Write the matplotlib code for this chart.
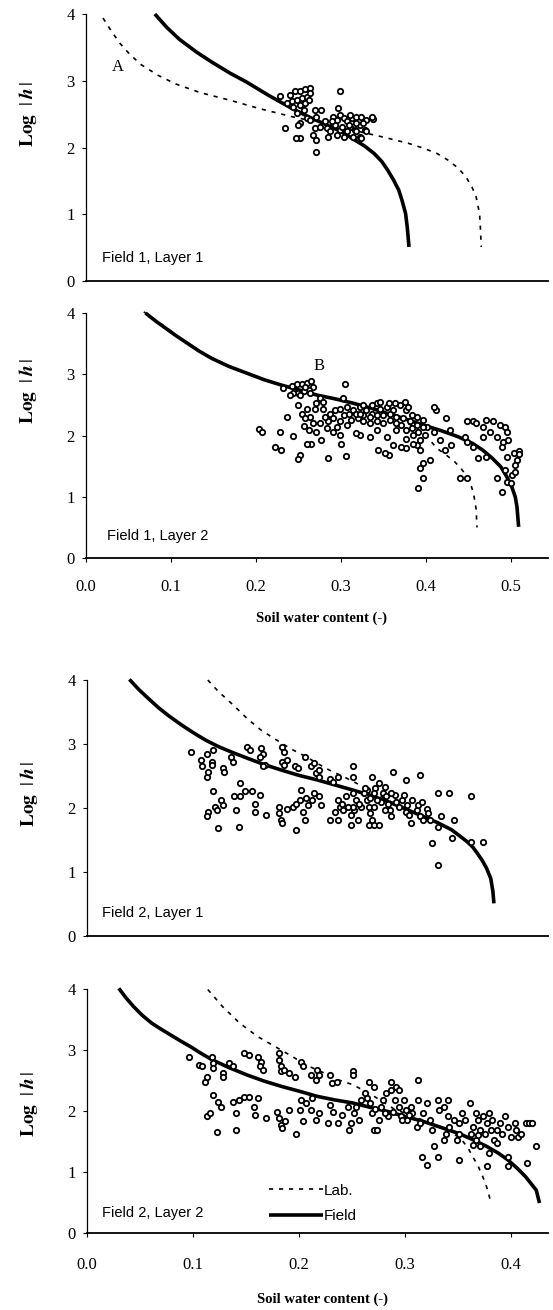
import numpy as np
import matplotlib.pyplot as plt

plt.rcParams['font.family'] = 'Liberation Serif'
plt.rcParams['mathtext.fontset'] = 'stix'

# ---- retention curves: (soil water content, log|h|) ----
f1l1_field = [(0.081, 4.00), (0.095, 3.80), (0.110, 3.62), (0.130, 3.43), (0.148, 3.28),
              (0.170, 3.11), (0.189, 2.98), (0.215, 2.78), (0.243, 2.58), (0.262, 2.46),
              (0.281, 2.35), (0.300, 2.24), (0.314, 2.13), (0.328, 2.02), (0.339, 1.91),
              (0.348, 1.79), (0.355, 1.66), (0.362, 1.51), (0.368, 1.36), (0.372, 1.20),
              (0.376, 1.01), (0.378, 0.80), (0.380, 0.51)]
f1l1_lab = [(0.020, 3.94), (0.030, 3.74), (0.040, 3.56), (0.052, 3.39), (0.065, 3.24),
            (0.085, 3.08), (0.106, 2.95), (0.135, 2.82), (0.169, 2.71), (0.205, 2.58),
            (0.243, 2.46), (0.280, 2.36), (0.314, 2.26), (0.355, 2.14), (0.380, 2.06),
            (0.397, 1.99), (0.413, 1.91), (0.426, 1.81), (0.438, 1.69), (0.447, 1.56),
            (0.454, 1.41), (0.459, 1.26), (0.463, 1.01), (0.464, 0.80), (0.465, 0.51)]

f1l2_field = [(0.070, 4.00), (0.082, 3.87), (0.094, 3.75), (0.106, 3.63), (0.119, 3.51),
              (0.133, 3.38), (0.148, 3.26), (0.168, 3.13), (0.189, 3.02), (0.210, 2.91),
              (0.231, 2.82), (0.252, 2.74), (0.272, 2.66), (0.293, 2.60), (0.314, 2.53),
              (0.335, 2.45), (0.355, 2.36), (0.376, 2.27), (0.397, 2.17), (0.418, 2.08),
              (0.438, 1.98), (0.455, 1.87), (0.467, 1.76), (0.478, 1.63), (0.488, 1.49),
              (0.495, 1.33), (0.501, 1.16), (0.505, 1.00), (0.507, 0.84), (0.509, 0.51)]
f1l2_lab = [(0.068, 4.02), (0.081, 3.89), (0.094, 3.77), (0.106, 3.64), (0.119, 3.52),
            (0.133, 3.39), (0.148, 3.27), (0.168, 3.14), (0.189, 3.02), (0.210, 2.91),
            (0.231, 2.82), (0.252, 2.74), (0.272, 2.66), (0.293, 2.59), (0.314, 2.52),
            (0.330, 2.46), (0.345, 2.40), (0.365, 2.30), (0.385, 2.15), (0.400, 2.00),
            (0.413, 1.79), (0.424, 1.68), (0.434, 1.57), (0.442, 1.45), (0.448, 1.33),
            (0.453, 1.19), (0.456, 1.05), (0.459, 0.80), (0.460, 0.50)]

f2l1_field = [(0.040, 4.01), (0.049, 3.85), (0.058, 3.71), (0.068, 3.56), (0.078, 3.43),
              (0.089, 3.30), (0.101, 3.17), (0.112, 3.06), (0.124, 2.96), (0.137, 2.87),
              (0.151, 2.78), (0.167, 2.68), (0.184, 2.59), (0.200, 2.51), (0.217, 2.44),
              (0.234, 2.36), (0.251, 2.28), (0.267, 2.20), (0.284, 2.10), (0.300, 1.99),
              (0.317, 1.87), (0.331, 1.77), (0.344, 1.66), (0.352, 1.56), (0.359, 1.47),
              (0.364, 1.39), (0.368, 1.30), (0.373, 1.18), (0.377, 1.06), (0.381, 0.90),
              (0.383, 0.70), (0.384, 0.51)]
f2l1_lab = [(0.114, 4.00), (0.124, 3.82), (0.138, 3.61), (0.151, 3.40), (0.164, 3.22),
            (0.181, 3.04), (0.194, 2.91), (0.207, 2.80), (0.217, 2.70), (0.229, 2.59),
            (0.242, 2.49), (0.254, 2.39), (0.268, 2.27), (0.284, 2.12), (0.300, 1.99),
            (0.317, 1.87), (0.331, 1.77), (0.344, 1.66), (0.352, 1.56), (0.359, 1.47),
            (0.364, 1.39), (0.368, 1.30), (0.373, 1.18), (0.377, 1.06), (0.381, 0.90),
            (0.383, 0.70), (0.384, 0.51)]

f2l2_field = [(0.030, 4.01), (0.037, 3.85), (0.044, 3.71), (0.052, 3.57), (0.061, 3.44),
              (0.069, 3.35), (0.078, 3.255), (0.088, 3.15), (0.098, 3.05), (0.108, 2.94),
              (0.118, 2.84), (0.134, 2.71), (0.151, 2.59), (0.167, 2.49), (0.184, 2.40),
              (0.201, 2.32), (0.217, 2.24), (0.234, 2.18), (0.251, 2.13), (0.267, 2.06),
              (0.284, 1.99), (0.300, 1.91), (0.317, 1.83), (0.334, 1.73), (0.351, 1.63),
              (0.364, 1.53), (0.377, 1.42), (0.388, 1.31), (0.397, 1.20), (0.406, 1.06),
              (0.414, 0.92), (0.419, 0.81), (0.424, 0.70), (0.427, 0.49)]
f2l2_lab = [(0.114, 3.99), (0.128, 3.71), (0.144, 3.44), (0.161, 3.22), (0.178, 3.05),
            (0.194, 2.89), (0.207, 2.75), (0.224, 2.62), (0.237, 2.51), (0.251, 2.43),
            (0.270, 2.25), (0.290, 2.03), (0.317, 1.85), (0.334, 1.74), (0.345, 1.64),
            (0.354, 1.52), (0.360, 1.38), (0.364, 1.25), (0.369, 1.10), (0.372, 0.98),
            (0.375, 0.86), (0.377, 0.76), (0.379, 0.64), (0.381, 0.51)]

# ---- field measurements: (soil water content, log|h|) ----
f1l1_obs = [(0.228, 2.77), (0.240, 2.79), (0.246, 2.84), (0.252, 2.85), (0.258, 2.87),
            (0.263, 2.89), (0.242, 2.69), (0.248, 2.71), (0.254, 2.74), (0.260, 2.76),
            (0.236, 2.66), (0.244, 2.61), (0.252, 2.64), (0.258, 2.66), (0.264, 2.81),
            (0.262, 2.71), (0.248, 2.51), (0.256, 2.56), (0.269, 2.56), (0.277, 2.56),
            (0.271, 2.46), (0.260, 2.44), (0.264, 2.41), (0.252, 2.36), (0.234, 2.29),
            (0.250, 2.34), (0.269, 2.29), (0.267, 2.19), (0.271, 2.11), (0.252, 2.14),
            (0.247, 2.14), (0.271, 1.94), (0.285, 2.16), (0.283, 2.29), (0.281, 2.39),
            (0.291, 2.46), (0.299, 2.84), (0.297, 2.59), (0.299, 2.49), (0.303, 2.44),
            (0.307, 2.39), (0.313, 2.44), (0.318, 2.46), (0.324, 2.46), (0.330, 2.41),
            (0.338, 2.42), (0.311, 2.31), (0.316, 2.26), (0.322, 2.34), (0.328, 2.26),
            (0.307, 2.24), (0.299, 2.26), (0.293, 2.34), (0.303, 2.16), (0.314, 2.16),
            (0.322, 2.16), (0.330, 2.24), (0.287, 2.24), (0.295, 2.41), (0.289, 2.39),
            (0.311, 2.49), (0.318, 2.36), (0.326, 2.36), (0.309, 2.34), (0.301, 2.31),
            (0.295, 2.19), (0.318, 2.24), (0.324, 2.14), (0.275, 2.31), (0.337, 2.45)]

f1l2_obs = [(0.232, 2.77), (0.242, 2.81), (0.248, 2.84), (0.254, 2.85), (0.260, 2.86),
            (0.265, 2.89), (0.267, 2.80), (0.262, 2.74), (0.256, 2.72), (0.250, 2.69),
            (0.244, 2.69), (0.240, 2.66), (0.252, 2.66), (0.263, 2.69), (0.258, 2.80),
            (0.305, 2.84), (0.236, 2.31), (0.228, 2.06), (0.203, 2.11), (0.207, 2.06),
            (0.222, 1.81), (0.230, 1.77), (0.244, 1.99), (0.252, 1.68), (0.250, 1.61),
            (0.265, 1.86), (0.260, 1.86), (0.285, 1.64), (0.306, 1.67), (0.300, 1.86),
            (0.276, 1.93), (0.271, 2.06), (0.256, 2.16), (0.254, 2.36), (0.249, 2.50),
            (0.260, 2.44), (0.271, 2.53), (0.275, 2.61), (0.279, 2.55), (0.287, 2.36),
            (0.293, 2.42), (0.299, 2.44), (0.302, 2.61), (0.307, 2.47), (0.314, 2.42),
            (0.322, 2.47), (0.326, 2.50), (0.330, 2.42), (0.336, 2.36), (0.342, 2.53),
            (0.346, 2.44), (0.354, 2.47), (0.361, 2.42), (0.369, 2.50), (0.375, 2.55),
            (0.377, 2.42), (0.383, 2.34), (0.389, 2.31), (0.397, 2.25), (0.401, 2.14),
            (0.409, 2.06), (0.412, 2.42), (0.410, 2.47), (0.424, 2.28), (0.428, 2.09),
            (0.416, 1.93), (0.422, 1.76), (0.430, 1.85), (0.448, 2.23), (0.455, 2.23),
            (0.459, 2.20), (0.467, 2.14), (0.471, 2.25), (0.479, 2.23), (0.487, 2.17),
            (0.493, 2.14), (0.495, 2.06), (0.475, 2.06), (0.467, 1.98), (0.483, 1.98),
            (0.491, 1.90), (0.497, 1.93), (0.489, 1.82), (0.495, 1.65), (0.503, 1.71),
            (0.509, 1.74), (0.507, 1.60), (0.505, 1.52), (0.493, 1.44), (0.501, 1.36),
            (0.495, 1.25), (0.489, 1.08), (0.483, 1.30), (0.471, 1.65), (0.461, 1.63),
            (0.455, 1.82), (0.448, 1.90), (0.446, 1.98), (0.393, 1.47), (0.397, 1.55),
            (0.405, 1.60), (0.397, 1.30), (0.391, 1.14), (0.440, 1.30), (0.448, 1.30),
            (0.377, 1.79), (0.371, 1.82), (0.361, 1.85), (0.356, 1.68), (0.344, 1.76),
            (0.352, 1.71), (0.322, 2.01), (0.318, 2.04), (0.334, 1.98), (0.342, 2.09),
            (0.354, 1.98), (0.365, 2.09), (0.371, 2.17), (0.377, 2.09), (0.385, 2.01),
            (0.393, 1.93), (0.389, 1.85), (0.358, 2.25), (0.350, 2.20), (0.342, 2.23),
            (0.334, 2.20), (0.326, 2.23), (0.320, 2.28), (0.312, 2.25), (0.307, 2.17),
            (0.299, 2.23), (0.291, 2.28), (0.285, 2.23), (0.281, 2.31), (0.303, 2.34),
            (0.310, 2.36), (0.318, 2.36), (0.326, 2.34), (0.334, 2.31), (0.342, 2.34),
            (0.350, 2.34), (0.358, 2.36), (0.365, 2.31), (0.373, 2.28), (0.381, 2.23),
            (0.389, 2.17), (0.397, 2.14), (0.365, 2.20), (0.383, 2.12), (0.391, 2.06),
            (0.399, 2.01), (0.377, 1.95), (0.385, 1.87), (0.393, 1.76), (0.379, 2.47),
            (0.363, 2.53), (0.356, 2.53), (0.346, 2.55), (0.336, 2.50), (0.322, 2.36),
            (0.295, 2.14), (0.279, 2.44), (0.269, 2.44), (0.263, 2.31), (0.258, 2.28),
            (0.267, 2.20), (0.275, 2.20), (0.262, 2.09), (0.283, 2.12), (0.291, 2.06),
            (0.299, 2.01), (0.510, 1.70), (0.505, 1.40), (0.500, 1.22)]

f2l1_obs = [(0.098, 2.88), (0.108, 2.75), (0.109, 2.65), (0.113, 2.85), (0.118, 2.72),
            (0.119, 2.91), (0.118, 2.67), (0.113, 2.49), (0.114, 2.57), (0.128, 2.62),
            (0.129, 2.57), (0.136, 2.80), (0.138, 2.72), (0.151, 2.96), (0.154, 2.91),
            (0.164, 2.93), (0.166, 2.85), (0.163, 2.80), (0.168, 2.67), (0.166, 2.65),
            (0.184, 2.96), (0.186, 2.88), (0.184, 2.72), (0.186, 2.67), (0.189, 2.75),
            (0.196, 2.65), (0.199, 2.62), (0.206, 2.80), (0.211, 2.65), (0.214, 2.70),
            (0.216, 2.54), (0.219, 2.59), (0.219, 2.49), (0.229, 2.46), (0.232, 2.41),
            (0.237, 2.49), (0.251, 2.65), (0.251, 2.49), (0.264, 2.28), (0.269, 2.49),
            (0.276, 2.39), (0.289, 2.57), (0.301, 2.44), (0.314, 2.52), (0.119, 2.26),
            (0.121, 2.02), (0.126, 2.13), (0.128, 2.05), (0.123, 1.97), (0.114, 1.94),
            (0.113, 1.87), (0.124, 1.68), (0.139, 2.18), (0.144, 2.39), (0.144, 2.18),
            (0.141, 1.97), (0.143, 1.71), (0.149, 2.26), (0.156, 2.26), (0.163, 2.20),
            (0.159, 2.07), (0.159, 1.94), (0.169, 1.89), (0.181, 2.02), (0.181, 1.92),
            (0.183, 1.81), (0.184, 1.76), (0.189, 1.99), (0.194, 2.02), (0.197, 2.07),
            (0.197, 1.65), (0.201, 2.13), (0.202, 2.28), (0.204, 1.94), (0.206, 1.81),
            (0.207, 2.15), (0.209, 2.05), (0.212, 2.13), (0.214, 2.23), (0.219, 2.18),
            (0.221, 2.05), (0.229, 1.81), (0.234, 1.94), (0.237, 1.81), (0.239, 2.02),
            (0.241, 2.07), (0.242, 1.97), (0.249, 1.89), (0.249, 1.74), (0.252, 1.97),
            (0.256, 1.81), (0.259, 2.02), (0.261, 2.23), (0.264, 2.13), (0.266, 2.02),
            (0.267, 1.92), (0.269, 1.81), (0.266, 1.74), (0.271, 1.74), (0.276, 1.74),
            (0.277, 2.10), (0.279, 2.23), (0.272, 2.31), (0.281, 2.33), (0.282, 2.18),
            (0.284, 2.07), (0.286, 1.97), (0.287, 1.87), (0.291, 2.20), (0.292, 2.10),
            (0.294, 2.02), (0.297, 2.13), (0.299, 2.20), (0.301, 1.94), (0.302, 2.05),
            (0.304, 1.89), (0.306, 1.76), (0.307, 2.13), (0.311, 1.97), (0.312, 2.05),
            (0.314, 1.87), (0.316, 2.10), (0.317, 1.81), (0.321, 1.99), (0.322, 1.92),
            (0.324, 1.81), (0.331, 2.23), (0.334, 1.87), (0.331, 1.71), (0.342, 2.23),
            (0.346, 1.81), (0.362, 2.18), (0.326, 1.45), (0.331, 1.11), (0.344, 1.53),
            (0.362, 1.47), (0.374, 1.47), (0.237, 2.13), (0.244, 2.18), (0.251, 2.23),
            (0.254, 2.13), (0.257, 2.07), (0.262, 2.31), (0.271, 2.23), (0.274, 2.13),
            (0.267, 2.15), (0.281, 1.97), (0.271, 2.02), (0.251, 2.02), (0.246, 2.02),
            (0.287, 2.23)]

f2l2_obs = [(0.096, 2.88), (0.106, 2.76), (0.109, 2.73), (0.111, 2.48), (0.113, 2.56),
            (0.118, 2.89), (0.119, 2.78), (0.119, 2.70), (0.128, 2.62), (0.128, 2.56),
            (0.134, 2.79), (0.138, 2.73), (0.148, 2.95), (0.153, 2.92), (0.161, 2.89),
            (0.164, 2.81), (0.163, 2.73), (0.166, 2.67), (0.181, 2.95), (0.181, 2.84),
            (0.183, 2.73), (0.183, 2.65), (0.186, 2.67), (0.191, 2.62), (0.196, 2.56),
            (0.202, 2.81), (0.204, 2.73), (0.211, 2.59), (0.216, 2.51), (0.217, 2.67),
            (0.219, 2.59), (0.229, 2.59), (0.231, 2.45), (0.236, 2.48), (0.251, 2.65),
            (0.251, 2.59), (0.266, 2.48), (0.271, 2.40), (0.287, 2.48), (0.292, 2.40),
            (0.312, 2.51), (0.294, 2.34), (0.119, 2.26), (0.124, 2.15), (0.126, 2.07),
            (0.113, 1.91), (0.116, 1.96), (0.123, 1.66), (0.138, 2.15), (0.143, 2.18),
            (0.148, 2.23), (0.153, 2.23), (0.161, 2.21), (0.141, 1.96), (0.141, 1.69),
            (0.158, 2.07), (0.159, 1.94), (0.169, 1.88), (0.179, 1.99), (0.181, 1.88),
            (0.183, 1.77), (0.187, 1.83), (0.184, 1.72), (0.191, 2.02), (0.197, 1.62),
            (0.201, 2.02), (0.202, 2.18), (0.204, 1.83), (0.207, 2.13), (0.211, 2.02),
            (0.212, 2.21), (0.216, 1.85), (0.219, 1.96), (0.227, 1.80), (0.229, 2.10),
            (0.232, 1.99), (0.237, 1.80), (0.241, 1.94), (0.246, 2.07), (0.247, 1.69),
            (0.249, 1.80), (0.252, 1.96), (0.254, 2.07), (0.257, 1.85), (0.259, 2.18),
            (0.262, 2.29), (0.267, 2.13), (0.269, 1.96), (0.271, 1.69), (0.274, 1.69),
            (0.276, 1.85), (0.277, 2.07), (0.279, 2.18), (0.282, 2.29), (0.284, 1.91),
            (0.287, 2.34), (0.291, 2.18), (0.294, 2.07), (0.296, 1.91), (0.299, 2.18),
            (0.301, 2.02), (0.302, 1.85), (0.306, 2.07), (0.307, 1.96), (0.311, 1.74),
            (0.312, 2.18), (0.314, 1.80), (0.317, 1.96), (0.321, 2.13), (0.324, 1.85),
            (0.326, 1.69), (0.331, 2.18), (0.332, 2.02), (0.337, 2.07), (0.339, 1.63),
            (0.341, 2.18), (0.342, 1.74), (0.346, 1.85), (0.349, 1.52), (0.351, 1.63),
            (0.354, 1.96), (0.361, 2.13), (0.362, 1.63), (0.364, 1.74), (0.367, 1.52),
            (0.369, 1.85), (0.371, 1.69), (0.374, 1.91), (0.376, 1.63), (0.377, 1.80),
            (0.379, 1.96), (0.381, 1.69), (0.382, 1.85), (0.384, 1.52), (0.387, 1.69),
            (0.390, 1.80), (0.394, 1.91), (0.397, 1.74), (0.400, 1.58), (0.404, 1.80),
            (0.405, 1.69), (0.407, 1.58), (0.410, 1.63), (0.414, 1.80), (0.417, 1.80),
            (0.420, 1.80), (0.424, 1.42), (0.415, 1.14), (0.397, 1.25), (0.397, 1.09),
            (0.377, 1.09), (0.379, 1.31), (0.351, 1.20), (0.337, 1.52), (0.327, 1.42),
            (0.331, 1.25), (0.316, 1.25), (0.321, 1.12), (0.341, 1.91), (0.351, 1.80),
            (0.357, 1.85), (0.367, 1.96), (0.387, 1.47), (0.392, 1.63), (0.369, 1.61),
            (0.371, 1.42), (0.364, 1.44), (0.264, 2.21), (0.272, 2.04), (0.281, 1.96),
            (0.289, 1.99), (0.297, 1.85), (0.304, 1.94)]

panel_names = ['Field 1, Layer 1', 'Field 1, Layer 2', 'Field 2, Layer 1', 'Field 2, Layer 2']
top_ticks = [0.0, 0.1, 0.2, 0.3, 0.4, 0.5]
bottom_ticks = [0.0, 0.1, 0.2, 0.3, 0.4]
y_ticks = [0, 1, 2, 3, 4]

fig = plt.figure(figsize=(5.53, 13.10), dpi=100)

panels = [
    # rect, xmax, obs, field, lab, ylabel y, name position
    ([0.1555, 0.7855, 0.8354, 0.2038], 0.5435, f1l1_obs, f1l1_field, f1l1_lab, 0.625, (0.035, 0.088)),
    ([0.1555, 0.5740, 0.8354, 0.1870], 0.5435, f1l2_obs, f1l2_field, f1l2_lab, 0.68, (0.045, 0.09)),
    ([0.1573, 0.2855, 0.8336, 0.1954], 0.435, f2l1_obs, f2l1_field, f2l1_lab, 0.555, (0.033, 0.09)),
    ([0.1573, 0.0588, 0.8336, 0.1863], 0.435, f2l2_obs, f2l2_field, f2l2_lab, 0.53, (0.033, 0.082)),
]

axes = []
for i, (rect, xmax, obs, field, lab, ylab_y, name_xy) in enumerate(panels):
    ax = fig.add_axes(rect)
    lab = np.array(lab)
    field = np.array(field)
    obs = np.array(obs)
    lab_line, = ax.plot(lab[:, 0], lab[:, 1], color='black', lw=1.2,
                        ls=(0, (2.5, 3.5)), clip_on=False, zorder=2, label='Lab.')
    field_line, = ax.plot(field[:, 0], field[:, 1], color='black', lw=2.6,
                          solid_capstyle='butt', solid_joinstyle='round',
                          clip_on=False, zorder=2, label='Field')
    ax.scatter(obs[:, 0], obs[:, 1], s=15, facecolors='white', edgecolors='black',
               linewidths=1.3, zorder=3)

    ax.set_xlim(0, xmax)
    ax.set_ylim(0, 4)
    ax.spines['top'].set_visible(False)
    ax.spines['right'].set_visible(False)
    ax.spines['left'].set_linewidth(0.9)
    ax.spines['bottom'].set_linewidth(1.3)
    ax.set_yticks(y_ticks)
    ax.tick_params(axis='y', direction='out', length=3, width=0.8, labelsize=12, pad=5)

    if i in (1, 3):
        ticks = top_ticks if i == 1 else bottom_ticks
        ax.set_xticks(ticks)
        ax.set_xticklabels(['%.1f' % t for t in ticks])
        ax.tick_params(axis='x', direction='out', length=3, width=0.8, labelsize=12,
                       pad=12 if i == 1 else 14)
        ax.text(0.51, -0.245 if i == 1 else -0.27, 'Soil water content (-)',
                transform=ax.transAxes, ha='center', va='center',
                fontsize=10.5, fontweight='bold')
    else:
        ax.set_xticks([])

    ax.text(-0.125, ylab_y, r'$\mathbf{Log}\ \ |\,\mathbfit{h}\,|$', transform=ax.transAxes,
            rotation=90, ha='center', va='center', fontsize=14)
    ax.text(name_xy[0], name_xy[1], panel_names[i], transform=ax.transAxes,
            ha='left', va='center', fontsize=10.5, family='Liberation Sans')
    axes.append(ax)

# curve labels
axes[0].text(0.037, 3.2, 'A', ha='center', va='center', fontsize=12)
axes[1].text(0.274, 3.13, 'B', ha='center', va='center', fontsize=12)

axes[3].legend(handles=[lab_line, field_line], loc='lower left',
               bbox_to_anchor=(0.395, 0.04), frameon=False, borderpad=0,
               borderaxespad=0, handlelength=3.5, handletextpad=0.1,
               labelspacing=0.75, prop={'family': 'Liberation Sans', 'size': 11})

fig.savefig('out.png', dpi=100)
